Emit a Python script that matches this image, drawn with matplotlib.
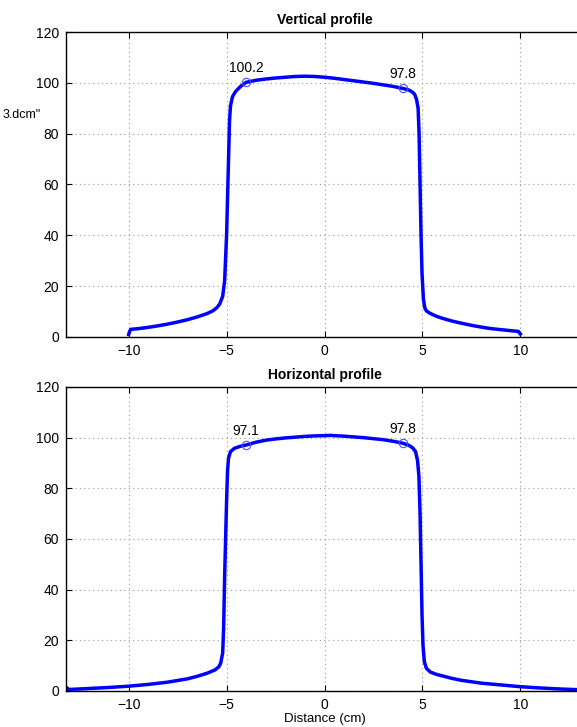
import numpy as np
import matplotlib
matplotlib.use('Agg')
import matplotlib.pyplot as plt

plt.rcParams['font.family'] = ['Liberation Sans', 'DejaVu Sans']

# vertical profile (cm, % dose)
vert_x = [-10.0, -9.95, -9.9, -9.5, -9.0, -8.5, -8.0, -7.5, -7.0, -6.5, -6.0, -5.7, -5.5,
          -5.35, -5.2, -5.1, -5.0, -4.9, -4.85, -4.8, -4.7, -4.55, -4.3, -4.0, -3.5, -3.0,
          -2.5, -2.0, -1.5, -1.0, -0.5, 0.0, 0.5, 1.0, 1.5, 2.0, 2.5, 3.0, 3.5, 4.0, 4.3,
          4.5, 4.6, 4.7, 4.78, 4.83, 4.88, 4.93, 4.98, 5.05, 5.12, 5.2, 5.35, 5.5, 5.7, 6.0,
          6.5, 7.0, 7.5, 8.0, 8.5, 9.0, 9.5, 9.9, 9.95, 10.0]
vert_y = [1.0, 2.2, 3.0, 3.3, 3.8, 4.4, 5.1, 5.9, 6.8, 7.9, 9.2, 10.3, 11.5,
          13.0, 16.0, 22.0, 40.0, 70.0, 85.0, 91.0, 94.5, 96.5, 98.5, 100.2, 101.0, 101.5,
          101.9, 102.2, 102.5, 102.6, 102.5, 102.2, 101.8, 101.3, 100.8, 100.3, 99.8, 99.2, 98.6, 97.8, 97.2,
          96.3, 95.5, 93.5, 90.0, 80.0, 60.0, 40.0, 25.0, 15.0, 11.5, 10.3, 9.5, 8.9, 8.2, 7.4,
          6.3, 5.4, 4.6, 3.9, 3.3, 2.9, 2.5, 2.2, 1.6, 1.2]

# horizontal profile
horz_x = [-13.2, -13.15, -13.1, -12.5, -12.0, -11.0, -10.0, -9.0, -8.0, -7.0, -6.5, -6.0,
          -5.6, -5.4, -5.3, -5.2, -5.15, -5.1, -5.05, -5.0, -4.95, -4.9, -4.8, -4.6, -4.3,
          -4.0, -3.5, -3.0, -2.5, -2.0, -1.5, -1.0, -0.5, 0.0, 0.3, 0.5, 1.0, 1.5, 2.0, 2.5,
          3.0, 3.5, 4.0, 4.3, 4.5, 4.65, 4.75, 4.82, 4.88, 4.93, 4.98, 5.03, 5.1, 5.2, 5.4,
          5.7, 6.0, 6.5, 7.0, 8.0, 9.0, 10.0, 11.0, 12.0, 13.0, 13.2]
horz_y = [1.5, 1.2, 0.6, 0.8, 1.0, 1.4, 1.9, 2.6, 3.5, 4.8, 5.8, 7.0,
          8.3, 9.5, 11.0, 15.0, 25.0, 45.0, 60.0, 75.0, 87.0, 92.0, 94.5, 95.8, 96.6,
          97.1, 98.2, 99.0, 99.5, 99.9, 100.2, 100.5, 100.7, 100.8, 100.9, 100.8, 100.6, 100.3, 100.0, 99.6,
          99.2, 98.6, 97.8, 97.0, 96.0, 94.5, 91.0, 85.0, 70.0, 50.0, 30.0, 18.0, 11.5, 9.0, 7.5,
          6.6, 6.0, 5.0, 4.2, 3.1, 2.4, 1.7, 1.2, 0.8, 0.5, 0.4]

vert_marks_x = [-4.0, 4.0]
vert_marks_y = [100.2, 97.8]
horz_marks_x = [-4.0, 4.0]
horz_marks_y = [97.1, 97.8]

W, H = 577, 727
fig = plt.figure(figsize=(W / 100, H / 100), dpi=100)

left = 66 / W
right = 583 / W
ax1 = fig.add_axes([left, 1 - 337 / H, right - left, (337 - 32) / H])
ax2 = fig.add_axes([left, 1 - 691 / H, right - left, (691 - 387) / H])


def style(ax, title):
    ax.set_xlim(-13.2, 13.2)
    ax.set_ylim(0, 120)
    ax.set_xticks([-10, -5, 0, 5, 10])
    ax.set_xticklabels(['\u221210', '\u22125', '0', '5', '10'])
    ax.set_yticks([0, 20, 40, 60, 80, 100, 120])
    ax.grid(True, linestyle=(0, (1, 3)), color='#999999', linewidth=0.8)
    ax.tick_params(direction='in', top=True, right=True, labelsize=10, length=4, pad=5)
    for s in ax.spines.values():
        s.set_linewidth(1.0)
    ax.set_title(title, fontsize=10, fontweight='bold', pad=6)


ax1.plot(vert_x, vert_y, color='#0000ff', linewidth=2.5)
ax1.plot(vert_marks_x, vert_marks_y, 'o', mfc='none', mec='#4d4dff', ms=6, mew=0.8)
for x, y in zip(vert_marks_x, vert_marks_y):
    ax1.annotate('%.1f' % y, (x, y), xytext=(0, 5), textcoords='offset points',
                 ha='center', va='bottom', fontsize=10)
style(ax1, 'Vertical profile')

ax2.plot(horz_x, horz_y, color='#0000ff', linewidth=2.5)
ax2.plot(horz_marks_x, horz_marks_y, 'o', mfc='none', mec='#4d4dff', ms=6, mew=0.8)
for x, y in zip(horz_marks_x, horz_marks_y):
    ax2.annotate('%.1f' % y, (x, y), xytext=(0, 5), textcoords='offset points',
                 ha='center', va='bottom', fontsize=10)
style(ax2, 'Horizontal profile')
ax2.set_xlabel('Distance (cm)', fontsize=9.5, labelpad=1)

# leftover of the original y label, as far as it shows in the picture
fig.text(3 / W, 1 - 115 / H, '3.dcm"', ha='left', va='center', fontsize=9)

fig.savefig('out.png', dpi=100)
